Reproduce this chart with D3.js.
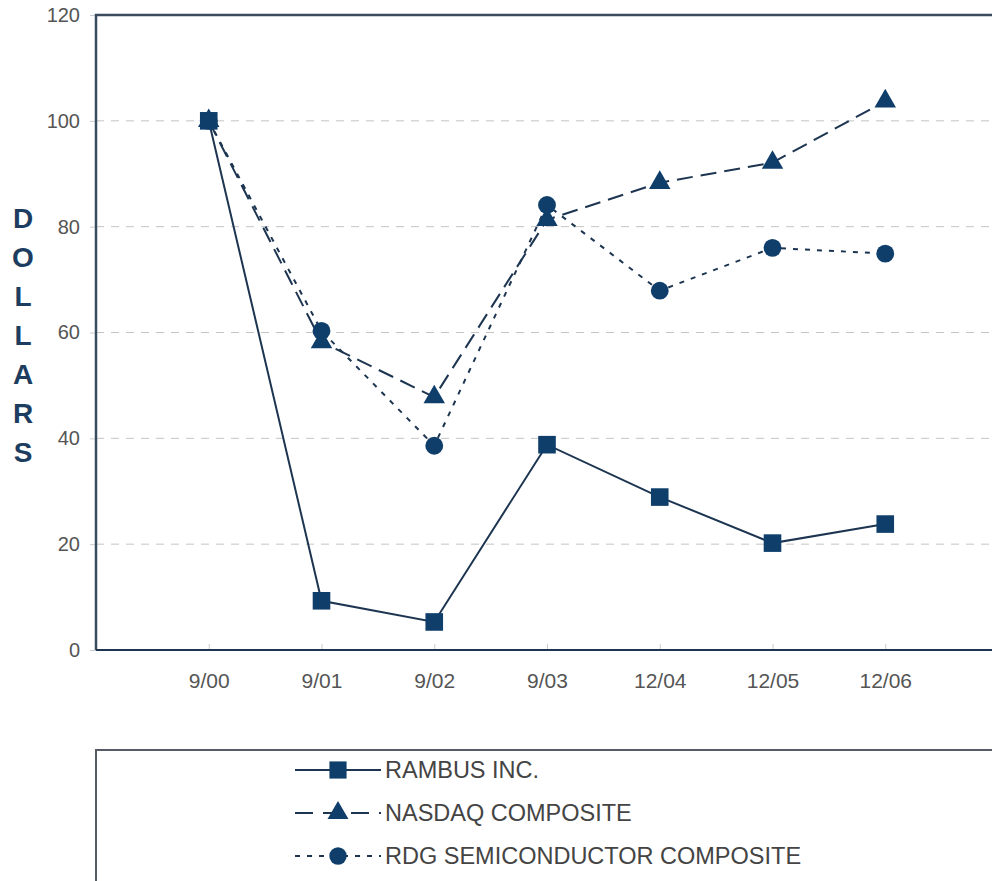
<!DOCTYPE html>
<html>
<head>
<meta charset="utf-8">
<script src="https://cdn.jsdelivr.net/npm/d3@7"></script>
<style>
  body { margin: 0; background: #fff; }
  svg text { font-family: "Liberation Sans", Arial, sans-serif; }
</style>
</head>
<body>
<svg id="chart"></svg>
<script>
// data
const categories = ['9/00', '9/01', '9/02', '9/03', '12/04', '12/05', '12/06'];
const rambus = [100, 9.3, 5.3, 38.8, 28.9, 20.2, 23.8];
const nasdaq = [100, 58.2, 47.8, 81.3, 88.3, 92.1, 103.7];
const rdg = [100, 60.3, 38.6, 84.1, 67.9, 76.0, 74.9];
const yTicks = [0, 20, 40, 60, 80, 100, 120];
const seriesNames = ['RAMBUS INC.', 'NASDAQ COMPOSITE', 'RDG SEMICONDUCTOR COMPOSITE'];

const W = 992, H = 881;
const navy = '#0f3e6b';
const lineCol = '#1d3550';

const svg = d3.select('#chart').attr('width', W).attr('height', H);

const x = d3.scalePoint().domain(categories).range([96, 998]).padding(1);
const y = d3.scaleLinear().domain([0, 120]).range([650, 15]);

// gridlines
svg.append('g')
  .selectAll('line')
  .data(yTicks.filter(d => d > 0 && d < 120))
  .join('line')
    .attr('x1', 96).attr('x2', W)
    .attr('y1', d => y(d)).attr('y2', d => y(d))
    .attr('stroke', '#c4c4c4')
    .attr('stroke-width', 1)
    .attr('stroke-dasharray', '8,7');

// y axis
const yAxis = svg.append('g')
  .attr('transform', 'translate(96,0)')
  .call(d3.axisLeft(y).tickValues(yTicks).tickSize(6).tickPadding(10));
yAxis.select('.domain').remove();
yAxis.selectAll('.tick line').attr('stroke', '#c8ccd2');
yAxis.selectAll('.tick text').attr('fill', '#555').style('font-size', '20px');

// x axis, small ticks point up into the plot
const xAxis = svg.append('g')
  .attr('transform', 'translate(0,650)')
  .call(d3.axisBottom(x).tickSizeInner(-6).tickSizeOuter(0).tickPadding(23));
xAxis.select('.domain').remove();
xAxis.selectAll('.tick line').attr('stroke', '#c8ccd2');
xAxis.selectAll('.tick text').attr('fill', '#555').style('font-size', '21px');

// frame
svg.append('path')
  .attr('d', `M96,650 V15 H${W}`)
  .attr('fill', 'none').attr('stroke', '#3b4b5e').attr('stroke-width', 2.5);
svg.append('line')
  .attr('x1', 96).attr('x2', W).attr('y1', 650).attr('y2', 650)
  .attr('stroke', '#1d3550').attr('stroke-width', 2);

// DOLLARS label
svg.append('g')
  .selectAll('text')
  .data('DOLLARS'.split(''))
  .join('text')
    .attr('x', 23)
    .attr('y', (d, i) => 228 + i * 39)
    .attr('text-anchor', 'middle')
    .attr('fill', '#1c3d5f')
    .style('font-size', '28px')
    .style('font-weight', 'bold')
    .text(d => d);

const line = d3.line().x((d, i) => x(categories[i])).y(d => y(d));

const series = [
  { name: seriesNames[0], values: rambus, dash: null, legDash: null, sym: d3.symbolSquare, size: 310 },
  { name: seriesNames[1], values: nasdaq, dash: '16,8', legDash: '18,10', sym: d3.symbolTriangle, size: 200 },
  { name: seriesNames[2], values: rdg, dash: '5,7', legDash: '5,7', sym: d3.symbolCircle, size: 250 }
];

series.forEach(s => {
  svg.append('path')
    .datum(s.values)
    .attr('d', line)
    .attr('fill', 'none')
    .attr('stroke', lineCol)
    .attr('stroke-width', 2)
    .attr('stroke-dasharray', s.dash);
});

// markers after lines, reversed so squares sit on top
series.slice().reverse().forEach(s => {
  svg.append('g')
    .selectAll('path')
    .data(s.values)
    .join('path')
      .attr('transform', (d, i) => `translate(${x(categories[i])},${y(d)})`)
      .attr('d', d3.symbol().type(s.sym).size(s.size))
      .attr('fill', navy);
});

// legend box
svg.append('path')
  .attr('d', `M96,${H} V750 H${W}`)
  .attr('fill', 'none').attr('stroke', '#555c66').attr('stroke-width', 2);

const legend = svg.append('g');
series.forEach((s, i) => {
  const ly = 770 + i * 43;
  legend.append('line')
    .attr('x1', 295).attr('x2', 381).attr('y1', ly).attr('y2', ly)
    .attr('stroke', lineCol).attr('stroke-width', 2)
    .attr('stroke-dasharray', s.legDash);
  legend.append('path')
    .attr('transform', `translate(338,${ly})`)
    .attr('d', d3.symbol().type(s.sym).size(s.size * 0.95))
    .attr('fill', navy);
  legend.append('text')
    .attr('x', 385).attr('y', ly + 8)
    .attr('fill', '#444')
    .style('font-size', '23.5px')
    .text(s.name);
});
</script>
</body>
</html>
